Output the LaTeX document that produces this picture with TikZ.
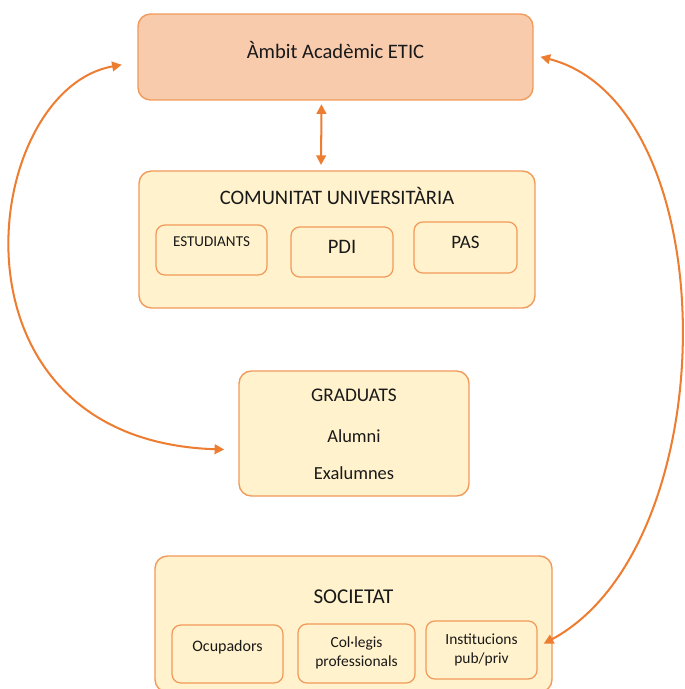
\documentclass[tikz,border=0pt]{standalone}
\usepackage{fontspec}
\setmainfont{Carlito}
\usetikzlibrary{arrows.meta}

\definecolor{ptaronja}{HTML}{ED7D31}
\definecolor{vora}{HTML}{F19A5A}
\definecolor{preseg}{HTML}{F8CBAD}
\definecolor{crema}{HTML}{FFF2CC}

\tikzset{
  caixa/.style={draw=vora, line width=0.8pt, fill=crema, rounded corners=7pt, inner sep=0pt},
  caixeta/.style={draw=vora, line width=0.7pt, rounded corners=5pt, inner sep=0pt, minimum width=2.22cm},
  titol/.style={font=\fontsize{11.7}{13}\selectfont, text=black!90},
  petit/.style={font=\fontsize{8.8}{10.5}\selectfont, text=black!90, align=center},
  fletxa/.style={draw=ptaronja, line width=1.15pt, {Triangle[length=5.5pt,width=5.5pt]}-{Triangle[length=5.5pt,width=5.5pt]}}
}

\begin{document}
\begin{tikzpicture}[x=0.02cm,y=-0.02cm]
  \useasboundingbox (0,0) rectangle (684,689);

  % caixes grans
  \node[caixa, fill=preseg, minimum width=7.9cm, minimum height=1.72cm] (ambit) at (335.5,57) {};
  \node[caixa, minimum width=7.92cm, minimum height=2.74cm] (com) at (337,239.5) {};
  \node[caixa, minimum width=4.6cm, minimum height=2.5cm] (grad) at (354,433.5) {};
  \node[caixa, minimum width=7.94cm, minimum height=2.72cm] (soc) at (353.5,624) {};

  % caixes petites
  \node[caixeta, minimum height=1cm] (estud) at (211.5,250) {};
  \node[caixeta, minimum width=2.04cm, minimum height=1cm] (pdi) at (342,252) {};
  \node[caixeta, minimum width=2.06cm, minimum height=1.02cm] (pas) at (465.5,247.5) {};
  \node[caixeta, minimum height=1.16cm] (ocup) at (227.5,654) {};
  \node[caixeta, minimum width=2.34cm, minimum height=1.18cm] (coleg) at (356.5,653.5) {};
  \node[caixeta, minimum height=1.16cm] (inst) at (481.5,650) {};

  % textos
  \node[titol] (ambit-t) at (335.5,50) {Àmbit Acadèmic ETIC};
  \node[titol] (com-t) at (337,196) {COMUNITAT UNIVERSITÀRIA};
  \node[petit, font=\fontsize{8.6}{10}\selectfont] (estud-t) at (211.5,242) {ESTUDIANTS};
  \node[titol] (pdi-t) at (342,247) {PDI};
  \node[titol, font=\fontsize{10.8}{12}\selectfont] (pas-t) at (465.5,242) {PAS};
  \node[titol, font=\fontsize{11}{12}\selectfont] (grad-t) at (354,395) {GRADUATS};
  \node[titol, font=\fontsize{10.5}{12}\selectfont] (alum-t) at (354,436) {Alumni};
  \node[titol, font=\fontsize{10.5}{12}\selectfont] (exal-t) at (354,473) {Exalumnes};
  \node[titol, font=\fontsize{12}{13}\selectfont] (soc-t) at (353.5,597) {SOCIETAT};
  \node[petit, font=\fontsize{9.1}{10.5}\selectfont] (ocup-t) at (227.5,647) {Ocupadors};
  \node[petit] (coleg-t) at (356.5,653) {Col·legis\\professionals};
  \node[petit] (inst-t) at (481.5,650) {Institucions\\pub/priv};

  % fletxes
  \draw[fletxa, shorten <=2pt, shorten >=3pt] ([xshift=-0.28cm]ambit.south) -- ([xshift=-0.32cm]com.north);
  \draw[fletxa, shorten <=9pt, shorten >=8pt] ([yshift=-0.1cm]ambit.west) .. controls (-20,90) and (-65,440) .. ([yshift=-0.33cm]grad.west);
  \draw[fletxa, shorten <=4pt, shorten >=4pt] ([yshift=0.04cm]ambit.east) .. controls (727,105) and (727,545) .. ([yshift=0.06cm]inst.east);
\end{tikzpicture}
\end{document}
